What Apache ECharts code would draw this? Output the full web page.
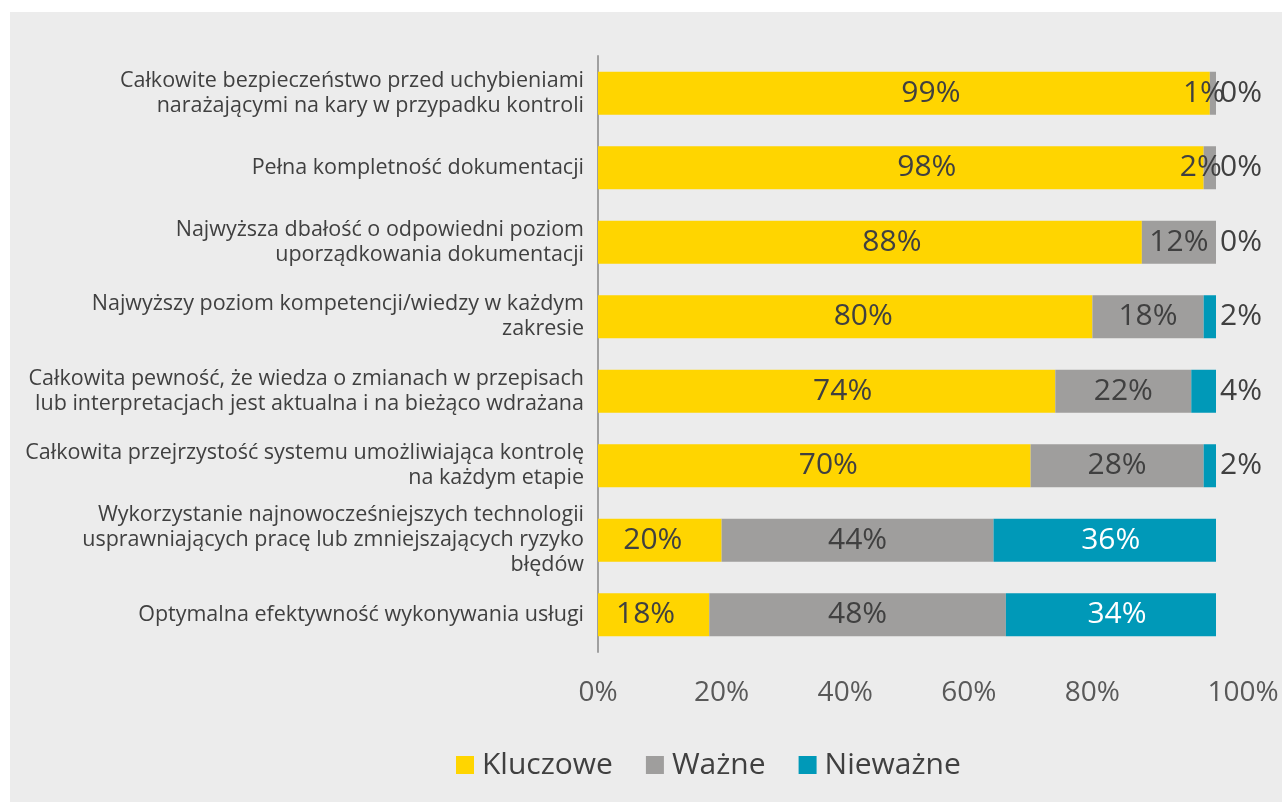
<!DOCTYPE html>
<html>
<head>
<meta charset="utf-8">
<script src="https://cdn.jsdelivr.net/npm/echarts@6/dist/echarts.min.js"></script>
<style>
  html, body { margin: 0; padding: 0; background: #ffffff; }
  #chart { position: absolute; left: 10px; top: 12px; width: 1272px; height: 790px; background: #ececec; }
</style>
</head>
<body>
<div id="chart"></div>
<script>
const categories = [
  "Całkowite bezpieczeństwo przed uchybieniami\nnarażającymi na kary w przypadku kontroli",
  "Pełna kompletność dokumentacji",
  "Najwyższa dbałość o odpowiedni poziom\nuporządkowania dokumentacji",
  "Najwyższy poziom kompetencji/wiedzy w każdym\nzakresie",
  "Całkowita pewność, że wiedza o zmianach w przepisach\nlub interpretacjach jest aktualna i na bieżąco wdrażana",
  "Całkowita przejrzystość systemu umożliwiająca kontrolę\nna każdym etapie",
  "Wykorzystanie najnowocześniejszych technologii\nusprawniających pracę lub zmniejszających ryzyko\nbłędów",
  "Optymalna efektywność wykonywania usługi"
]
const kluczowe = [99, 98, 88, 80, 74, 70, 20, 18]
const wazne = [1, 2, 12, 18, 22, 28, 44, 48]
const niewazne = [0, 0, 0, 2, 4, 2, 36, 34]
const seriesNames = ["Kluczowe", "Ważne", "Nieważne"]

const font = "Open Sans"
const textColor = "#404040"

const chart = echarts.init(document.getElementById("chart"))

// the yellow labels in the original drift right as the bar gets longer
const kluczoweData = kluczowe.map(v => ({
  value: v,
  label: { offset: [Math.round(-16 + 0.43 * v), 0] }
}))

// tiny grey slivers: label pushed a bit left
const wazneData = wazne.map(v => ({
  value: v,
  label: { offset: [v <= 2 ? -9 : 0, 0] }
}))

// small teal values sit outside the bar end
const niewazneData = niewazne.map(v => ({
  value: v,
  label: v <= 5
    ? { position: "right", distance: 4, color: textColor }
    : { position: "inside", color: "#ffffff", offset: [6, 0] }
}))

const labelBase = {
  show: true,
  fontFamily: font,
  fontSize: 30,
  color: textColor,
  formatter: "{c}%"
}

chart.setOption({
  animation: false,
  textStyle: { fontFamily: font },
  grid: { left: 588, right: 66, top: 44, bottom: 150, containLabel: false, outerBoundsMode: "none" },
  legend: {
    top: 733,
    left: 441,
    itemWidth: 18,
    itemHeight: 18,
    itemGap: 33,
    icon: "rect",
    textStyle: { fontFamily: font, fontSize: 30, color: textColor, padding: [0, 0, 0, 3] },
    data: seriesNames
  },
  xAxis: {
    type: "value",
    min: 0,
    max: 100,
    interval: 20,
    splitLine: { show: false },
    axisLine: { show: false },
    axisTick: { show: false },
    axisLabel: {
      margin: 27,
      fontFamily: font,
      fontSize: 28,
      color: "#595959",
      formatter: v => (v === 100 ? "{m|100%}" : v + "%"),
      rich: { m: { fontFamily: font, fontSize: 28, color: "#595959", padding: [0, 0, 0, 54] } }
    }
  },
  yAxis: {
    type: "category",
    inverse: true,
    data: categories,
    axisLine: { show: true, lineStyle: { color: "#a0a0a0", width: 2 } },
    axisTick: { show: false },
    axisLabel: {
      margin: 14,
      fontFamily: font,
      fontSize: 21.5,
      lineHeight: 25,
      color: textColor,
      align: "right"
    }
  },
  series: [
    {
      name: seriesNames[0],
      type: "bar",
      stack: "total",
      barWidth: 43,
      itemStyle: { color: "#ffd500" },
      label: { ...labelBase, position: "inside" },
      data: kluczoweData
    },
    {
      name: seriesNames[1],
      type: "bar",
      stack: "total",
      barWidth: 43,
      itemStyle: { color: "#9f9e9d" },
      label: { ...labelBase, position: "inside", formatter: p => (p.value > 0 ? p.value + "%" : "") },
      data: wazneData
    },
    {
      name: seriesNames[2],
      type: "bar",
      stack: "total",
      barWidth: 43,
      itemStyle: { color: "#0099b8" },
      label: { ...labelBase },
      data: niewazneData
    }
  ]
})
</script>
</body>
</html>
